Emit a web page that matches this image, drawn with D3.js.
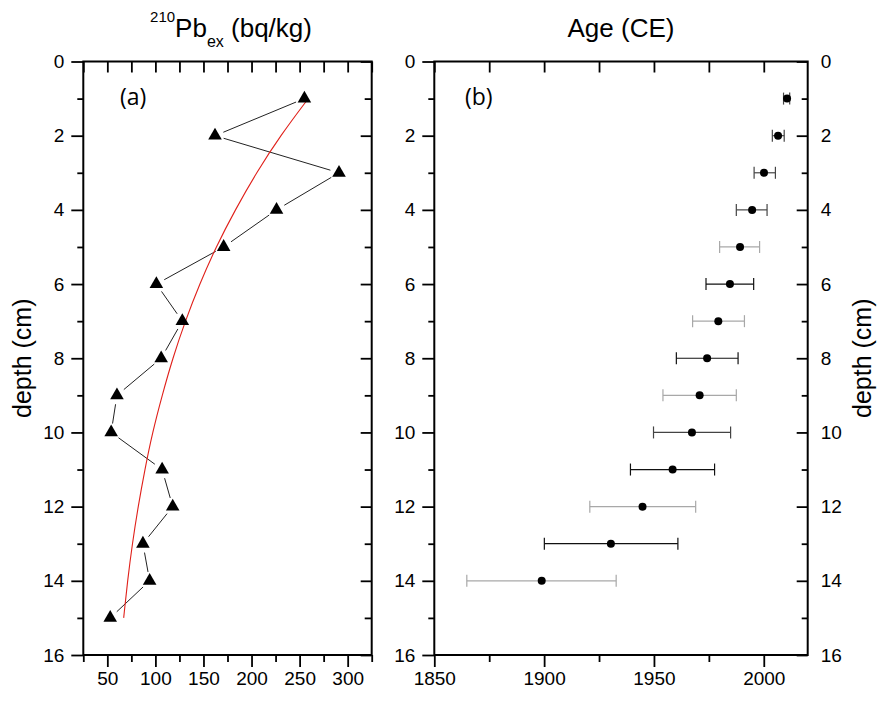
<!DOCTYPE html>
<html>
<head>
<meta charset="utf-8">
<script src="https://cdn.jsdelivr.net/npm/d3@7"></script>
<style>
  body { margin: 0; background: #fff; }
  svg { display: block; }
  text { font-family: "Liberation Sans", Arial, sans-serif; fill: #000; }
</style>
</head>
<body>
<div id="chart"></div>
<script>
// panel (a): excess 210Pb activity by depth
var pbDepth = [1, 2, 3, 4, 5, 6, 7, 8, 9, 10, 11, 12, 13, 14, 15];
var pbex = [255, 162, 291, 226, 171, 101, 128, 106, 60, 54, 107, 118, 87, 94, 53];

// red fitted curve
var fitDepth = [1, 2, 3, 4, 5, 6, 7, 8, 9, 10, 11, 12, 13, 14, 15];
var fitPb = [259, 230, 205, 183, 163, 146, 131, 118, 107, 97, 89, 82, 76, 71, 67];

// panel (b): age model with error bars
var ageDepth = [1, 2, 3, 4, 5, 6, 7, 8, 9, 10, 11, 12, 13, 14];
var age = [2010.6, 2006.5, 2000.1, 1994.7, 1989.2, 1984.6, 1979.3, 1974.2, 1970.8, 1967.3, 1958.5, 1944.8, 1930.4, 1898.9];
var ageLo = [2009.0, 2003.9, 1995.6, 1987.5, 1979.9, 1973.7, 1967.6, 1960.2, 1954.1, 1949.8, 1939.3, 1920.8, 1900.1, 1864.8];
var ageHi = [2011.8, 2009.3, 2005.3, 2001.5, 1998.1, 1995.4, 1991.2, 1988.3, 1987.5, 1984.9, 1977.6, 1969.0, 1960.9, 1932.8];

// tick values
var depthMajor = [0, 2, 4, 6, 8, 10, 12, 14, 16];
var depthMinor = [1, 3, 5, 7, 9, 11, 13, 15];
var pbMajor = [50, 100, 150, 200, 250, 300];
var pbMinor = [25, 75, 125, 175, 225, 275, 325];
var yearMajor = [1850, 1900, 1950, 2000];
var yearMinor = [1875, 1925, 1975];

// error bar shades (by depth index)
var lightBars = [4, 6, 8, 11, 13];
var blackBars = [5, 7, 10, 12];

var W = 890, H = 706;
var top_ = 61.5, bottom_ = 655;

var svg = d3.select("#chart").append("svg")
	.attr("width", W)
	.attr("height", H);

var y = d3.scaleLinear().domain([0, 16]).range([top_, bottom_]);
var xa = d3.scaleLinear().domain([25, 325]).range([83.3, 371.7]);
var xb = d3.scaleLinear().domain([1850, 2020]).range([434.3, 807.7]);

function styleAxis(g){
	g.select(".domain").remove();
	g.selectAll(".tick line").attr("stroke", "#000").attr("stroke-width", 1.8);
	g.selectAll(".tick text")
		.style("font-family", '"Liberation Sans", Arial, sans-serif')
		.style("font-size", "19px")
		.attr("fill", "#000");
}

function addAxis(axis, tx, ty){
	var g = svg.append("g")
		.attr("transform", "translate(" + tx + "," + ty + ")")
		.call(axis);
	styleAxis(g);
	return g;
}

function frame(x){
	svg.append("rect")
		.attr("x", x.range()[0])
		.attr("y", top_)
		.attr("width", x.range()[1] - x.range()[0])
		.attr("height", bottom_ - top_)
		.attr("fill", "none")
		.attr("stroke", "#000")
		.attr("stroke-width", 2);
}

// ---------- panel (a) ----------
var ax0 = xa.range()[0], ax1 = xa.range()[1];
// left, outward
addAxis(d3.axisLeft(y).tickValues(depthMajor).tickSize(12).tickPadding(7).tickFormat(d3.format("d")), ax0, 0);
addAxis(d3.axisLeft(y).tickValues(depthMinor).tickSize(6).tickFormat(""), ax0, 0);
// right, inward mirror
addAxis(d3.axisLeft(y).tickValues(depthMajor).tickSize(11).tickFormat(""), ax1, 0);
addAxis(d3.axisLeft(y).tickValues(depthMinor).tickSize(7).tickFormat(""), ax1, 0);
// bottom, outward
addAxis(d3.axisBottom(xa).tickValues(pbMajor).tickSize(12).tickPadding(5).tickFormat(d3.format("d")), 0, bottom_);
addAxis(d3.axisBottom(xa).tickValues(pbMinor).tickSize(7).tickFormat(""), 0, bottom_);
// top, inward mirror
addAxis(d3.axisBottom(xa).tickValues(pbMajor.concat(pbMinor)).tickSize(11).tickFormat(""), 0, top_);
frame(xa);

// connecting line with gaps around markers
var gap = 9;
var pa = pbDepth.map(function(d, i){ return [xa(pbex[i]), y(d)]; });
var segs = [];
for(var i = 0; i < pa.length - 1; i++){
	var p = pa[i], q = pa[i + 1];
	var dx = q[0] - p[0], dy = q[1] - p[1];
	var len = Math.sqrt(dx * dx + dy * dy);
	if(len <= 2 * gap) continue;
	var ux = dx / len, uy = dy / len;
	segs.push([p[0] + ux * gap, p[1] + uy * gap, q[0] - ux * gap, q[1] - uy * gap]);
}
svg.append("g").selectAll("line")
	.data(segs)
	.enter().append("line")
	.attr("x1", function(d){ return d[0]; })
	.attr("y1", function(d){ return d[1]; })
	.attr("x2", function(d){ return d[2]; })
	.attr("y2", function(d){ return d[3]; })
	.attr("stroke", "#222")
	.attr("stroke-width", 1);

// red fit
svg.append("path")
	.datum(fitDepth.map(function(d, i){ return [fitPb[i], d]; }))
	.attr("fill", "none")
	.attr("stroke", "#e0201a")
	.attr("stroke-width", 1.1)
	.attr("d", d3.line()
		.x(function(d){ return xa(d[0]); })
		.y(function(d){ return y(d[1]); })
		.curve(d3.curveBasis));

// triangles
svg.append("g").selectAll("path")
	.data(pbDepth)
	.enter().append("path")
	.attr("d", d3.symbol(d3.symbolTriangle, 80))
	.attr("transform", function(d, i){ return "translate(" + xa(pbex[i]) + "," + y(d) + ")"; })
	.attr("fill", "#000");

svg.append("text")
	.attr("x", 120).attr("y", 105)
	.style("font-family", '"Open Sans", "Noto Sans", sans-serif')
	.style("font-size", "23px")
	.text("(a)");

// ---------- panel (b) ----------
var bx0 = xb.range()[0], bx1 = xb.range()[1];
// left, outward
addAxis(d3.axisLeft(y).tickValues(depthMajor).tickSize(12).tickPadding(7).tickFormat(d3.format("d")), bx0, 0);
addAxis(d3.axisLeft(y).tickValues(depthMinor).tickSize(6).tickFormat(""), bx0, 0);
// right, inward ticks with labels outside
addAxis(d3.axisLeft(y).tickValues(depthMajor).tickSize(11).tickFormat(""), bx1, 0);
addAxis(d3.axisLeft(y).tickValues(depthMinor).tickSize(6).tickFormat(""), bx1, 0);
addAxis(d3.axisRight(y).tickValues(depthMajor).tickSize(0).tickPadding(13).tickFormat(d3.format("d")), bx1, 0);
// bottom, outward
addAxis(d3.axisBottom(xb).tickValues(yearMajor).tickSize(12).tickPadding(5).tickFormat(d3.format("d")), 0, bottom_);
addAxis(d3.axisBottom(xb).tickValues(yearMinor).tickSize(7).tickFormat(""), 0, bottom_);
// top, inward mirror
addAxis(d3.axisBottom(xb).tickValues(yearMajor.concat(yearMinor)).tickSize(11).tickFormat(""), 0, top_);
frame(xb);

function barColor(i){
	if(lightBars.indexOf(i) >= 0) return "#a8a8a8";
	if(blackBars.indexOf(i) >= 0) return "#111";
	return "#444";
}

var eb = svg.append("g").selectAll("g")
	.data(ageDepth)
	.enter().append("g")
	.attr("stroke", function(d, i){ return barColor(i); })
	.attr("stroke-width", 1.2);
eb.append("line")
	.attr("x1", function(d, i){ return xb(ageLo[i]); })
	.attr("x2", function(d, i){ return xb(ageHi[i]); })
	.attr("y1", function(d){ return y(d); })
	.attr("y2", function(d){ return y(d); });
eb.append("line")
	.attr("x1", function(d, i){ return xb(ageLo[i]); })
	.attr("x2", function(d, i){ return xb(ageLo[i]); })
	.attr("y1", function(d){ return y(d) - 6; })
	.attr("y2", function(d){ return y(d) + 6; });
eb.append("line")
	.attr("x1", function(d, i){ return xb(ageHi[i]); })
	.attr("x2", function(d, i){ return xb(ageHi[i]); })
	.attr("y1", function(d){ return y(d) - 6; })
	.attr("y2", function(d){ return y(d) + 6; });

svg.append("g").selectAll("circle")
	.data(ageDepth)
	.enter().append("circle")
	.attr("cx", function(d, i){ return xb(age[i]); })
	.attr("cy", function(d){ return y(d); })
	.attr("r", 4)
	.attr("fill", "#000");

svg.append("text")
	.attr("x", 465).attr("y", 105)
	.style("font-family", '"Open Sans", "Noto Sans", sans-serif')
	.style("font-size", "23px")
	.text("(b)");

// ---------- titles ----------
var t = svg.append("text")
	.attr("x", 231).attr("y", 22)
	.attr("text-anchor", "middle");
t.append("tspan").style("font-size", "15px").text("210");
t.append("tspan").attr("dy", 15).style("font-size", "26px").text("Pb");
t.append("tspan").attr("dy", 10).style("font-size", "16px").text("ex");
t.append("tspan").attr("dy", -10).style("font-size", "26px").text(" (bq/kg)");

svg.append("text")
	.attr("x", (bx0 + bx1) / 2).attr("y", 37)
	.attr("text-anchor", "middle")
	.style("font-size", "26px")
	.text("Age (CE)");

svg.append("text")
	.attr("transform", "translate(31," + ((top_ + bottom_) / 2) + ") rotate(-90)")
	.attr("text-anchor", "middle")
	.style("font-size", "25px")
	.text("depth (cm)");

svg.append("text")
	.attr("transform", "translate(871," + ((top_ + bottom_) / 2) + ") rotate(-90)")
	.attr("text-anchor", "middle")
	.style("font-size", "25px")
	.text("depth (cm)");
</script>
</body>
</html>
